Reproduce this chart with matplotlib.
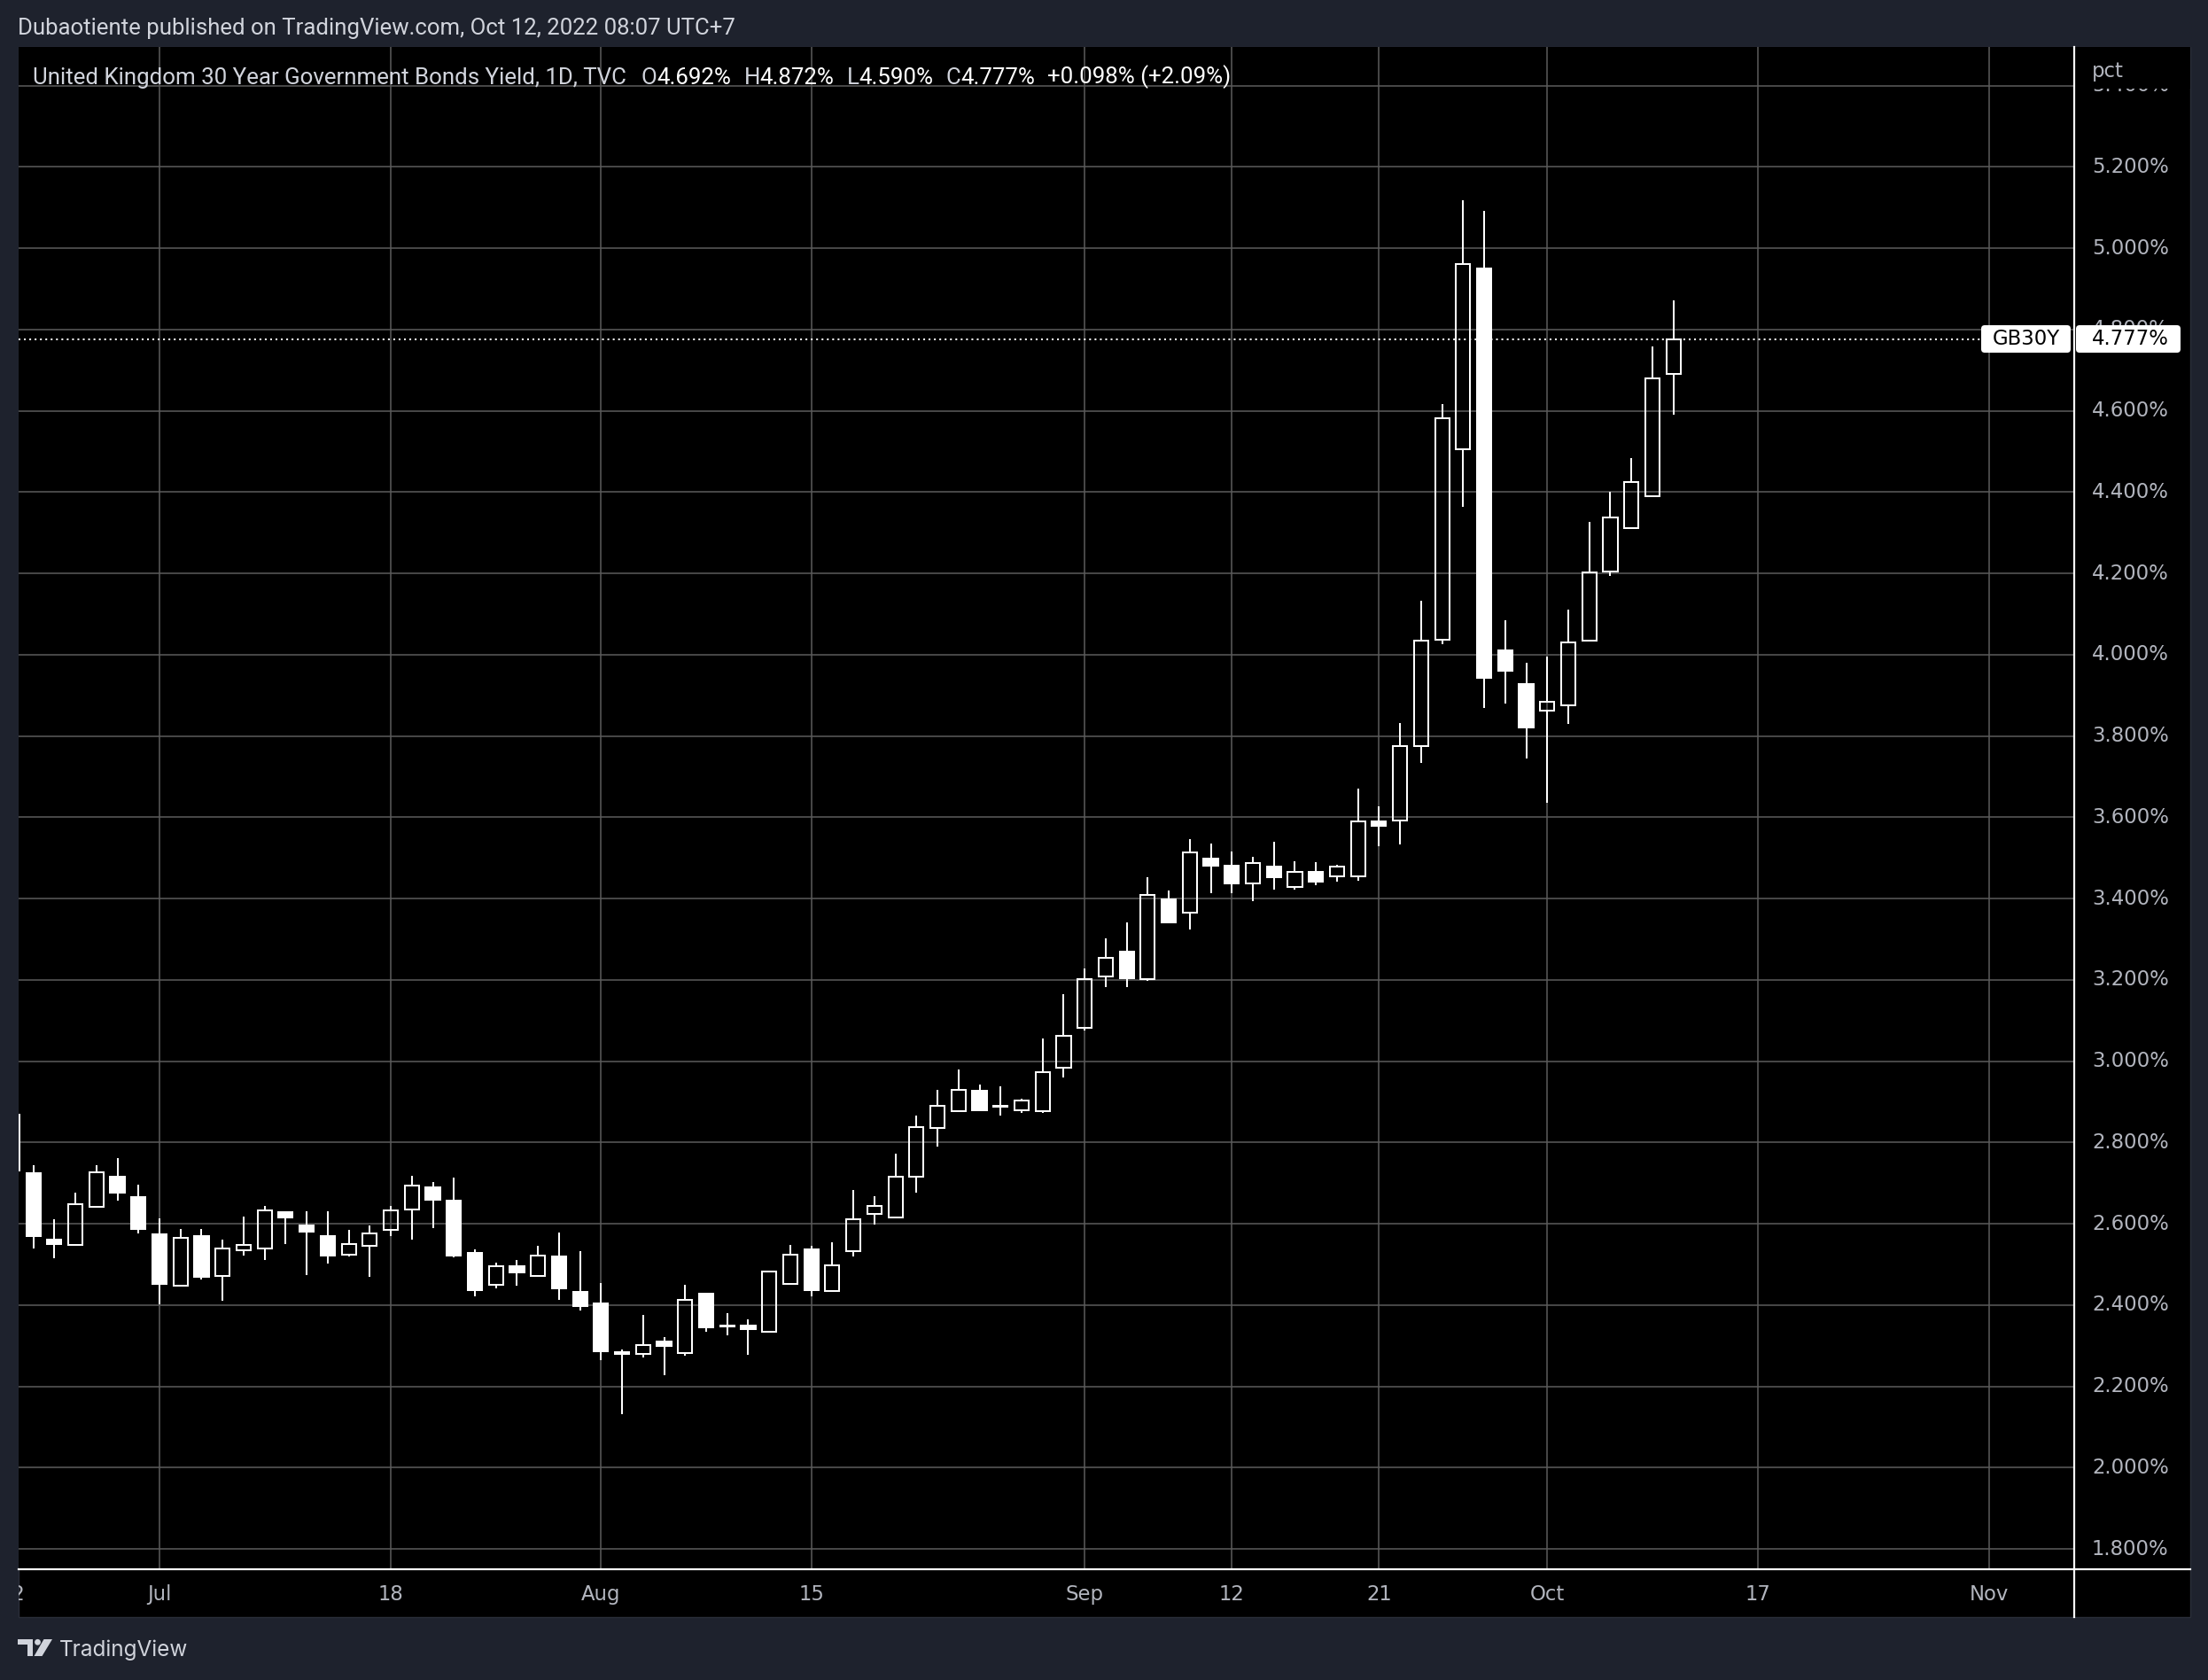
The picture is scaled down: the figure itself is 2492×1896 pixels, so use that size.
import matplotlib
matplotlib.use('Agg')
import matplotlib.pyplot as plt
from matplotlib.patches import Rectangle, FancyBboxPatch, Polygon, Circle
from matplotlib.lines import Line2D
from matplotlib.transforms import IdentityTransform
import numpy as np

# -----------------------------
# Data: GB30Y daily candles
# -----------------------------
dates = ['2022-06-22', '2022-06-23', '2022-06-24', '2022-06-27', '2022-06-28', '2022-06-29', '2022-06-30',
         '2022-07-01', '2022-07-04', '2022-07-05', '2022-07-06', '2022-07-07', '2022-07-08', '2022-07-11',
         '2022-07-12', '2022-07-13', '2022-07-14', '2022-07-15', '2022-07-18', '2022-07-19', '2022-07-20',
         '2022-07-21', '2022-07-22', '2022-07-25', '2022-07-26', '2022-07-27', '2022-07-28', '2022-07-29',
         '2022-08-01', '2022-08-02', '2022-08-03', '2022-08-04', '2022-08-05', '2022-08-08', '2022-08-09',
         '2022-08-10', '2022-08-11', '2022-08-12', '2022-08-15', '2022-08-16', '2022-08-17', '2022-08-18',
         '2022-08-19', '2022-08-22', '2022-08-23', '2022-08-24', '2022-08-25', '2022-08-26', '2022-08-29',
         '2022-08-30', '2022-08-31', '2022-09-01', '2022-09-02', '2022-09-05', '2022-09-06', '2022-09-07',
         '2022-09-08', '2022-09-09', '2022-09-12', '2022-09-13', '2022-09-14', '2022-09-15', '2022-09-16',
         '2022-09-19', '2022-09-20', '2022-09-21', '2022-09-22', '2022-09-23', '2022-09-26', '2022-09-27',
         '2022-09-28', '2022-09-29', '2022-09-30', '2022-10-03', '2022-10-04', '2022-10-05', '2022-10-06',
         '2022-10-07', '2022-10-10', '2022-10-11']

opens = [2.868, 2.724, 2.562, 2.548, 2.642, 2.715, 2.665,
         2.575, 2.448, 2.571, 2.472, 2.536, 2.539, 2.629,
         2.596, 2.569, 2.524, 2.547, 2.585, 2.636, 2.690,
         2.658, 2.528, 2.451, 2.495, 2.472, 2.519, 2.432,
         2.404, 2.284, 2.279, 2.310, 2.283, 2.428, 2.348,
         2.349, 2.335, 2.453, 2.538, 2.435, 2.532, 2.625,
         2.616, 2.715, 2.835, 2.877, 2.928, 2.889, 2.879,
         2.878, 2.985, 3.083, 3.208, 3.270, 3.202, 3.398,
         3.366, 3.498, 3.482, 3.438, 3.480, 3.429, 3.465,
         3.455, 3.456, 3.591, 3.593, 3.776, 4.038, 4.505,
         4.951, 4.010, 3.929, 3.862, 3.875, 4.035, 4.204,
         4.312, 4.390, 4.692]

highs = [2.868, 2.745, 2.612, 2.676, 2.745, 2.761, 2.697,
         2.614, 2.588, 2.588, 2.562, 2.617, 2.645, 2.629,
         2.630, 2.632, 2.586, 2.597, 2.643, 2.719, 2.702,
         2.713, 2.538, 2.504, 2.512, 2.547, 2.578, 2.532,
         2.454, 2.292, 2.377, 2.322, 2.451, 2.430, 2.380,
         2.364, 2.483, 2.549, 2.547, 2.554, 2.684, 2.669,
         2.772, 2.866, 2.929, 2.980, 2.942, 2.938, 2.907,
         3.055, 3.165, 3.228, 3.302, 3.342, 3.453, 3.420,
         3.547, 3.536, 3.517, 3.504, 3.539, 3.493, 3.489,
         3.484, 3.670, 3.628, 3.833, 4.132, 4.617, 5.119,
         5.093, 4.086, 3.980, 3.995, 4.112, 4.327, 4.401,
         4.484, 4.759, 4.872]

lows = [2.731, 2.540, 2.516, 2.547, 2.641, 2.658, 2.577,
        2.403, 2.447, 2.464, 2.410, 2.523, 2.510, 2.550,
        2.475, 2.502, 2.519, 2.469, 2.569, 2.562, 2.589,
        2.517, 2.422, 2.441, 2.447, 2.471, 2.413, 2.387,
        2.265, 2.132, 2.272, 2.228, 2.276, 2.335, 2.326,
        2.277, 2.334, 2.452, 2.422, 2.434, 2.520, 2.599,
        2.615, 2.676, 2.790, 2.876, 2.879, 2.866, 2.874,
        2.874, 2.960, 3.076, 3.183, 3.183, 3.198, 3.339,
        3.325, 3.414, 3.413, 3.394, 3.422, 3.422, 3.433,
        3.442, 3.444, 3.530, 3.533, 3.734, 4.026, 4.363,
        3.870, 3.880, 3.744, 3.635, 3.830, 4.034, 4.193,
        4.311, 4.389, 4.590]

closes = [2.731, 2.571, 2.550, 2.649, 2.727, 2.676, 2.587,
          2.453, 2.565, 2.469, 2.539, 2.548, 2.633, 2.615,
          2.580, 2.521, 2.550, 2.576, 2.633, 2.694, 2.659,
          2.522, 2.438, 2.496, 2.480, 2.522, 2.441, 2.398,
          2.287, 2.281, 2.302, 2.300, 2.412, 2.346, 2.350,
          2.341, 2.483, 2.525, 2.438, 2.499, 2.612, 2.644,
          2.716, 2.839, 2.890, 2.930, 2.880, 2.890, 2.904,
          2.973, 3.063, 3.203, 3.255, 3.205, 3.409, 3.342,
          3.513, 3.481, 3.437, 3.488, 3.452, 3.466, 3.442,
          3.479, 3.590, 3.579, 3.775, 4.035, 4.582, 4.961,
          3.944, 3.961, 3.822, 3.884, 4.031, 4.202, 4.337,
          4.424, 4.679, 4.777]

tick_dates = ['2022-06-22', '2022-07-01', '2022-07-18', '2022-08-01', '2022-08-15', '2022-09-01',
              '2022-09-12', '2022-09-21', '2022-10-03', '2022-10-17', '2022-11-01']
tick_labels = ['22', 'Jul', '18', 'Aug', '15', 'Sep', '12', '21', 'Oct', '17', 'Nov']

price_ticks = [1.8, 2.0, 2.2, 2.4, 2.6, 2.8, 3.0, 3.2, 3.4, 3.6, 3.8, 4.0, 4.2, 4.4, 4.6, 4.8, 5.0, 5.2, 5.4]

symbol = 'GB30Y'
title = 'United Kingdom 30 Year Government Bonds Yield, 1D, TVC'
header = 'Dubaotiente published on TradingView.com, Oct 12, 2022 08:07 UTC+7'

# -----------------------------
# Layout helpers (pixel -> figure fraction)
# -----------------------------
W, H = 2492, 1896
def fx(px):
    return px / W
def fy(py):
    return 1 - py / H

BG = '#1e222d'
GRID = '#5c5c5c'
TXT = '#b2b5be'
LEG = '#d1d4dc'

fig = plt.figure(figsize=(W / 100, H / 100), dpi=100, facecolor=BG)

# black chart panel
fig.add_artist(Rectangle((fx(21), fy(1825)), fx(2472) - fx(21), fy(53) - fy(1825),
                         transform=fig.transFigure, facecolor='black', edgecolor='#2a2e39',
                         linewidth=1, zorder=0))

left, right, top, bottom = 20.7, 2340, 53, 1770
xlim = (0.287, 98.02)
ylim = (1.7525, 5.4953)

ax = fig.add_axes([fx(left), fy(bottom), fx(right) - fx(left), fy(top) - fy(bottom)])
ax.set_facecolor('black')

x = np.busday_count(dates[0], dates)
tick_pos = np.busday_count(dates[0], tick_dates)

o = np.array(opens)
h = np.array(highs)
l = np.array(lows)
c = np.array(closes)
up = c >= o
body_lo = np.minimum(o, c)
body_hi = np.maximum(o, c)

ax.set_xticks(tick_pos)
ax.set_yticks(price_ticks)
# limits after the ticks, set_xticks would widen them to show the '22' tick
ax.set_xlim(xlim)
ax.set_ylim(ylim)
ax.grid(True, color=GRID, linewidth=1.1, zorder=1)
ax.set_axisbelow(True)
ax.tick_params(length=0, labelbottom=False, labelleft=False)
for s in ax.spines.values():
    s.set_visible(False)

# last price dotted line
ax.axhline(closes[-1], xmin=0, xmax=0.955, color='white', linewidth=1.45,
           linestyle=(0, (1, 2)), zorder=2)

# wicks (outside the body only)
ax.vlines(x, body_hi, h, color='white', linewidth=1.45, zorder=3)
ax.vlines(x, l, body_lo, color='white', linewidth=1.45, zorder=3)

# bodies: hollow = up, filled = down
bw = 0.68
ax.bar(x[up], (body_hi - body_lo)[up], bottom=body_lo[up], width=bw,
       facecolor='none', edgecolor='white', linewidth=1.45, zorder=4)
ax.bar(x[~up], (body_hi - body_lo)[~up], bottom=body_lo[~up], width=bw,
       facecolor='white', edgecolor='white', linewidth=1.45, zorder=4)
ax.set_xlim(xlim)
ax.set_ylim(ylim)

# -----------------------------
# Price scale
# -----------------------------
axp = fig.add_axes([fx(2341), fy(bottom), fx(2472) - fx(2341), fy(top) - fy(bottom)])
axp.set_facecolor('black')
axp.set_ylim(ylim)
axp.set_xlim(0, 1)
axp.axis('off')
for p in price_ticks:
    axp.text(0.153, p, f'{p:.3f}%', color=TXT, fontsize=16.4, ha='left', va='center',
             family='DejaVu Sans')
# top strip hides half of the 5.400% label
axp.add_patch(Rectangle((0, 1 - (100 - top) / (bottom - top)), 1, 1, transform=axp.transAxes,
                        facecolor='black', edgecolor='none', zorder=5))
axp.text(0.153, 1 - (80 - top) / (bottom - top), 'pct', transform=axp.transAxes, color=TXT,
         fontsize=16.4, ha='left', va='center', zorder=6)

# -----------------------------
# Time scale
# -----------------------------
axt = fig.add_axes([fx(left), fy(1825), fx(right) - fx(left), fy(1771) - fy(1825)])
axt.set_xlim(xlim)
axt.set_ylim(0, 1)
axt.axis('off')
for tp, tl in zip(tick_pos, tick_labels):
    axt.text(tp, 0.47, tl, color=TXT, fontsize=16.4, ha='center', va='center', clip_on=True)

# separator lines
fig.add_artist(Line2D([fx(2340.5), fx(2340.5)], [fy(53), fy(1825)], transform=fig.transFigure,
                      color='white', linewidth=1.6, zorder=10))
fig.add_artist(Line2D([fx(21), fx(2472)], [fy(1770.5), fy(1770.5)], transform=fig.transFigure,
                      color='white', linewidth=1.6, zorder=10))

# -----------------------------
# Last price labels
# -----------------------------
fig.canvas.draw()
y_last = ax.transData.transform((0, closes[-1]))[1]
bh = 31
fig.add_artist(FancyBboxPatch((2236, y_last - bh / 2), 101, bh, boxstyle='round,pad=0,rounding_size=4',
                              transform=IdentityTransform(), facecolor='white', edgecolor='none', zorder=11))
fig.add_artist(FancyBboxPatch((2343, y_last - bh / 2), 118, bh, boxstyle='round,pad=0,rounding_size=4',
                              transform=IdentityTransform(), facecolor='white', edgecolor='none', zorder=11))
fig.text(fx(2286.5), y_last / H, symbol, color='black', fontsize=16.4, ha='center', va='center', zorder=12)
fig.text(fx(2361), y_last / H, f'{closes[-1]:.3f}%', color='black', fontsize=16.4, ha='left',
         va='center', zorder=12)

# -----------------------------
# Header and legend
# -----------------------------
fig.text(fx(20), fy(32), header, color=LEG, fontsize=18.5, family='Roboto', ha='left', va='center')

chg = closes[-1] - closes[-2]
pieces = [('O', LEG, 17), (f'{opens[-1]:.3f}%', 'white', 0),
          ('H', LEG, 14), (f'{highs[-1]:.3f}%', 'white', 0),
          ('L', LEG, 14), (f'{lows[-1]:.3f}%', 'white', 0),
          ('C', LEG, 14), (f'{closes[-1]:.3f}%', 'white', 0),
          (f'{chg:+.3f}% ({chg / closes[-2] * 100:+.2f}%)', 'white', 14)]
prev = fig.text(fx(37), fy(95), title, color=LEG, fontsize=18.6, family='Roboto',
                ha='left', va='baseline', zorder=12)
for txt, col, gap in pieces:
    prev = ax.annotate(txt, xy=(1, 0), xycoords=prev, xytext=(gap / 1.389, 0),
                       textcoords='offset points', color=col, fontsize=18.6, family='Roboto',
                       ha='left', va='bottom', annotation_clip=False, zorder=12)

# -----------------------------
# Footer logo
# -----------------------------
tf = IdentityTransform()
fig.add_artist(Polygon([(20, H - 1850), (37, H - 1850), (37, H - 1869), (31, H - 1869), (31, H - 1856),
                        (20, H - 1856)], closed=True, transform=tf, facecolor=LEG, edgecolor='none'))
fig.add_artist(Circle((42.5, H - 1853.3), 3.4, transform=tf, facecolor=LEG, edgecolor='none'))
fig.add_artist(Polygon([(49.5, H - 1850), (59, H - 1850), (47.5, H - 1869), (38.5, H - 1869)], closed=True,
                       transform=tf, facecolor=LEG, edgecolor='none'))
fig.text(fx(67), fy(1862), 'TradingView', color=LEG, fontsize=17.5, family='Inter', ha='left',
         va='center')

fig.savefig('out.png', dpi=100, facecolor=BG)
